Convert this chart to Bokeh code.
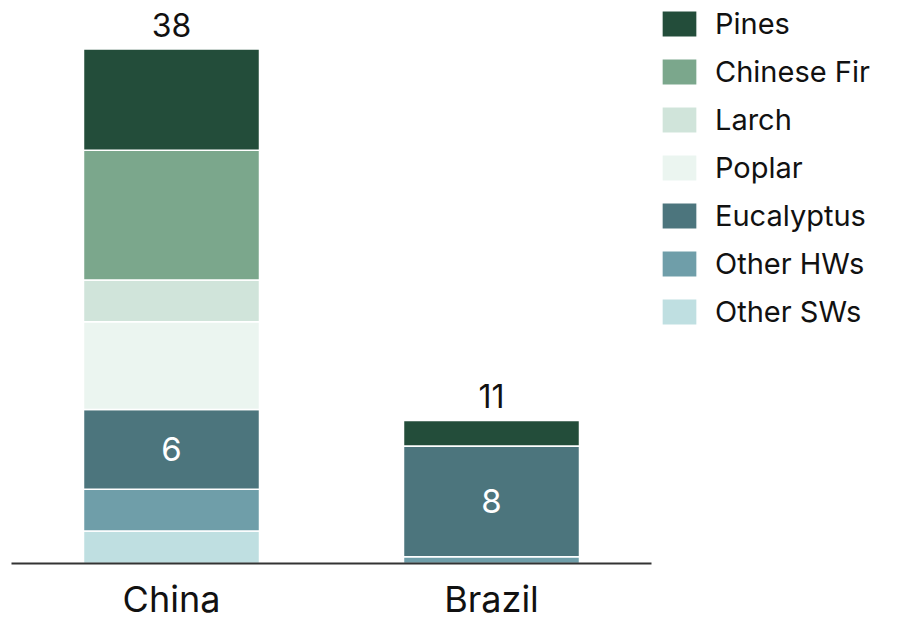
from bokeh.plotting import figure
from bokeh.models import ColumnDataSource, FactorRange, Range1d, Legend, LegendItem, LabelSet
from bokeh.core.properties import value
from bokeh.embed import file_html
from bokeh.resources import INLINE

countries = ["China", "Brazil"]
species = ["Other SWs", "Other HWs", "Eucalyptus", "Poplar", "Larch", "Chinese Fir", "Pines"]
colors = ["#bfdfe1", "#6f9ea9", "#4c757d", "#ebf5f0", "#d0e4da", "#7ba78c", "#234d3a"]
other_sws = [2.4, 0.0]
other_hws = [3.1, 0.5]
eucalyptus = [5.9, 8.2]
poplar = [6.5, 0.0]
larch = [3.1, 0.0]
chinese_fir = [9.6, 0.0]
pines = [7.5, 1.9]

FONT = "Inter"

data = {"country": countries, "Other SWs": other_sws, "Other HWs": other_hws,
        "Eucalyptus": eucalyptus, "Poplar": poplar, "Larch": larch,
        "Chinese Fir": chinese_fir, "Pines": pines}
src = ColumnDataSource(data)

p = figure(x_range=FactorRange(*countries, range_padding=0), y_range=Range1d(0, 41.7),
           frame_width=640, frame_height=563, output_backend="svg", toolbar_location=None,
           min_border_left=11, min_border_right=0, min_border_top=0, min_border_bottom=0)

rs = p.vbar_stack(species, x="country", width=0.55, source=src, color=colors,
                  line_color="white", line_width=1.5)

# totals
totals = [sum(v) for v in zip(other_sws, other_hws, eucalyptus, poplar, larch, chinese_fir, pines)]
tsrc = ColumnDataSource({"x": countries, "y": totals, "t": [f"{round(t)}" for t in totals]})
p.add_layout(LabelSet(x="x", y="y", text="t", source=tsrc, text_align="center",
                      text_baseline="alphabetic", y_offset=12, text_font=value(FONT),
                      text_font_size="32px", text_color="#111111"))

# eucalyptus labels
ebase = [a + b for a, b in zip(other_sws, other_hws)]
emid = [b + e / 2 for b, e in zip(ebase, eucalyptus)]
esrc = ColumnDataSource({"x": countries, "y": emid, "t": [f"{round(e)}" for e in eucalyptus]})
p.add_layout(LabelSet(x="x", y="y", text="t", source=esrc, text_align="center",
                      text_baseline="middle", text_font=value(FONT),
                      text_font_size="33px", text_color="white"))

p.yaxis.visible = False
p.xgrid.visible = False
p.ygrid.visible = False
p.outline_line_color = None
p.xaxis.axis_line_color = "#333333"
p.xaxis.axis_line_width = 2
p.xaxis.major_tick_line_color = None
p.xaxis.minor_tick_line_color = None
p.xaxis.major_tick_out = 0
p.xaxis.major_tick_in = 0
p.xaxis.major_label_text_font = FONT
p.xaxis.major_label_text_font_size = "36px"
p.xaxis.major_label_text_color = "#111111"
p.xaxis.major_label_text_line_height = 0.75
p.xaxis.major_label_standoff = 13

items = [LegendItem(label=s, renderers=[r]) for s, r in zip(species, rs)][::-1]
legend = Legend(items=items, location="top_left", orientation="vertical",
                glyph_width=44, glyph_height=33, label_height=33, spacing=13,
                label_standoff=14, padding=0, margin=6,
                label_text_font=FONT, label_text_font_size="29px", label_text_color="#111111",
                border_line_color=None, background_fill_alpha=0)
p.add_layout(legend, "right")

open("out.html", "w").write(file_html(p, INLINE))
